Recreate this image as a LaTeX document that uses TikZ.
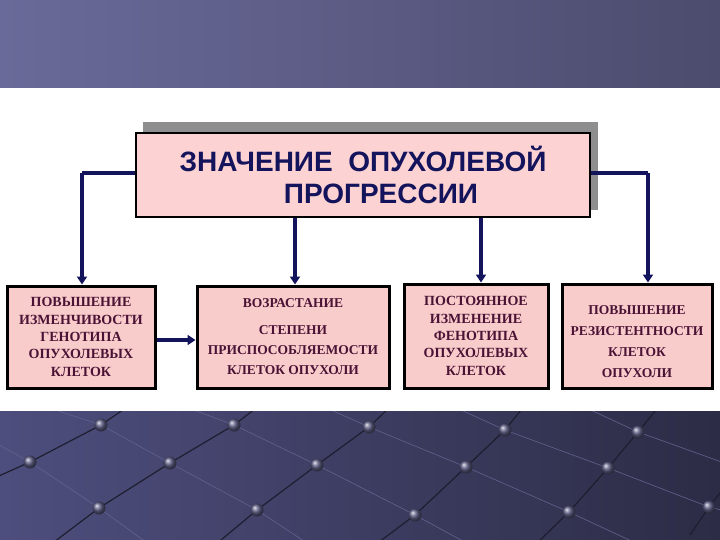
\documentclass[tikz,border=0pt]{standalone}
\usepackage{fontspec}
\setmainfont{Liberation Serif}
\newfontfamily\titlefont{Liberation Sans}
\usetikzlibrary{arrows.meta,shadings}
\definecolor{bandtopL}{HTML}{6A6A9A}
\definecolor{bandtopR}{HTML}{4C4C6E}
\definecolor{bandbotL}{HTML}{4E4E7E}
\definecolor{bandbotR}{HTML}{2C2C46}
\definecolor{pinkfill}{HTML}{F9CCCC}
\definecolor{titlepink}{HTML}{FCD2D2}
\definecolor{navy}{HTML}{14145C}
\definecolor{maroon}{HTML}{4A1234}
\definecolor{shadowgray}{HTML}{8E8E8E}
\definecolor{darkline}{HTML}{1E1E30}
\definecolor{lightline}{HTML}{62628E}
\definecolor{ball}{HTML}{5E5E86}
\tikzset{
  infobox/.style={draw=black, line width=3pt, fill=pinkfill, inner sep=0pt,
    align=center, text=maroon, font=\bfseries\fontsize{14}{17.3}\selectfont},
  conn/.style={draw=navy, line width=3.5pt},
  arr/.style={conn, -{Triangle[length=8pt,width=10pt]}},
  dl/.style={draw=darkline, line width=1.2pt},
  ll/.style={draw=lightline, line width=0.6pt},
}
\begin{document}
\begin{tikzpicture}[x=1pt,y=-1pt]
\useasboundingbox (0,0) rectangle (720,540);
% top band
\shade[left color=bandtopL, right color=bandtopR] (0,0) rectangle (720,88);
% bottom band
\shade[left color=bandbotL, right color=bandbotR] (0,411) rectangle (720,540);
\begin{scope}
\clip (0,411) rectangle (720,540);
\draw[dl] (-10,480) -- (30,462) -- (101,425) -- (130,405);
\draw[dl] (50,545) -- (99,508) -- (170,463) -- (234,425) -- (260,405);
\draw[dl] (215,545) -- (257,510) -- (317,465) -- (369,427) -- (392,405);
\draw[dl] (375,545) -- (415,515) -- (466,467) -- (505,430) -- (525,405);
\draw[dl] (535,545) -- (569,512) -- (608,468) -- (638,432) -- (660,405);
\draw[dl] (690,535) -- (709,507) -- (730,480);
\draw[ll] (40,405) -- (101,425) -- (170,463) -- (257,510) -- (310,545);
\draw[ll] (-10,440) -- (30,462) -- (99,508) -- (150,545);
\draw[ll] (180,405) -- (234,425) -- (317,465) -- (415,515) -- (470,545);
\draw[ll] (320,405) -- (369,427) -- (466,467) -- (569,512) -- (640,545);
\draw[ll] (450,405) -- (505,430) -- (608,468) -- (709,507) -- (730,512);
\draw[ll] (580,405) -- (638,432) -- (730,465);
\foreach \p in {(101,425),(234,425),(369,427),(505,430),(638,432),
                (30,462),(170,463),(317,465),(466,467),(608,468),
                (99,508),(257,510),(415,515),(569,512),(709,507)}
  \shade[ball color=ball] \p circle (6.5pt);
\end{scope}
% title
\fill[shadowgray] (143,122) rectangle (598,210);
\node[draw=black, line width=1.5pt, fill=titlepink, minimum width=454pt,
  minimum height=84pt, inner sep=0pt, align=center, text=navy,
  font=\titlefont\bfseries\fontsize{28}{32}\selectfont]
  (title) at (363,175) {ЗНАЧЕНИЕ\ \ ОПУХОЛЕВОЙ\\\hspace*{36pt}ПРОГРЕССИИ};
% boxes
\node[infobox, minimum width=148pt, minimum height=102pt] (b1) at (81,337)
  {ПОВЫШЕНИЕ\\ИЗМЕНЧИВОСТИ\\ГЕНОТИПА\\ОПУХОЛЕВЫХ\\КЛЕТОК};
\node[infobox, minimum width=192pt, minimum height=102pt,
  font=\bfseries\fontsize{13.5}{20}\selectfont] (b2) at (293,337)
  {ВОЗРАСТАНИЕ\\[7pt]СТЕПЕНИ\\ПРИСПОСОБЛЯЕМОСТИ\\КЛЕТОК ОПУХОЛИ};
\node[infobox, minimum width=144pt, minimum height=104pt] (b3) at (476,336)
  {ПОСТОЯННОЕ\\ИЗМЕНЕНИЕ\\ФЕНОТИПА\\ОПУХОЛЕВЫХ\\КЛЕТОК};
\node[infobox, minimum width=150pt, minimum height=104pt,
  font=\bfseries\fontsize{13.5}{20.7}\selectfont] (b4) at (637,336)
  {\raisebox{-9.5pt}[0pt][0pt]{\begin{tabular}{@{}c@{}}ПОВЫШЕНИЕ\\РЕЗИСТЕНТНОСТИ\\КЛЕТОК\\ОПУХОЛИ\end{tabular}}};
% connectors
\coordinate (lc) at (82,173);
\coordinate (rc) at (648,173);
\draw[conn] (title.west |- lc) -- (lc);
\draw[arr] (lc) -- (lc |- b1.north);
\draw[conn] (title.east |- rc) -- (rc);
\draw[arr] (rc) -- (rc |- b4.north);
\draw[arr] (title.south -| 295,0) -- (295,0 |- b2.north);
\draw[arr] (title.south -| 481,0) -- (481,0 |- b3.north);
\draw[arr] (b1.east |- 0,340) -- (b2.west |- 0,340);
\end{tikzpicture}
\end{document}
